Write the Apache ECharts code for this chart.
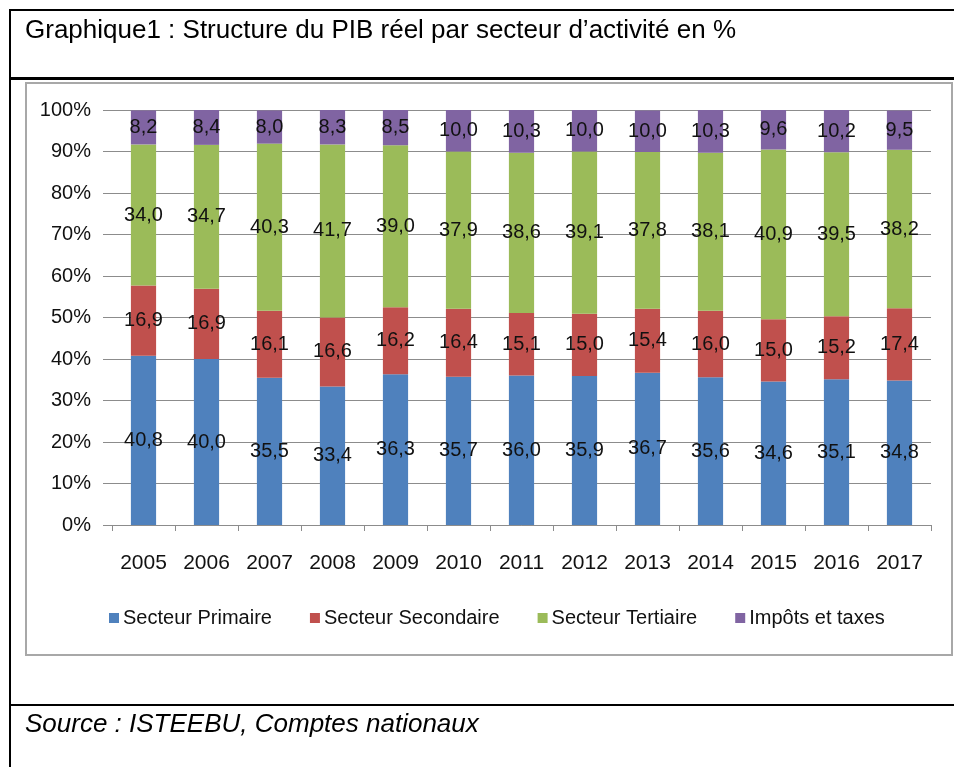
<!DOCTYPE html>
<html>
<head>
<meta charset="utf-8">
<script src="https://cdn.jsdelivr.net/npm/echarts@6/dist/echarts.min.js"></script>
<style>
html,body{margin:0;padding:0;background:#fff;}
#c{width:954px;height:767px;}
</style>
</head>
<body>
<div id="c"></div>
<script>
const years = ['2005','2006','2007','2008','2009','2010','2011','2012','2013','2014','2015','2016','2017'];
const primaire = [40.8,40.0,35.5,33.4,36.3,35.7,36.0,35.9,36.7,35.6,34.6,35.1,34.8];
const secondaire = [16.9,16.9,16.1,16.6,16.2,16.4,15.1,15.0,15.4,16.0,15.0,15.2,17.4];
const tertiaire = [34.0,34.7,40.3,41.7,39.0,37.9,38.6,39.1,37.8,38.1,40.9,39.5,38.2];
const impots = [8.2,8.4,8.0,8.3,8.5,10.0,10.3,10.0,10.0,10.3,9.6,10.2,9.5];
const yTicks = ['0%','10%','20%','30%','40%','50%','60%','70%','80%','90%','100%'];

const FONT = '"Liberation Sans", Arial, sans-serif';
const chart = echarts.init(document.getElementById('c'), null, {renderer:'canvas'});

function mk(name, data, color){
  return {
    name: name, type:'bar', stack:'s', data: data, barWidth:'40%',
    itemStyle:{color: color},
    label:{show:true, position:'inside', color:'#111', fontFamily:FONT, fontSize:20,
      formatter: p => p.value.toFixed(1).replace('.', ',')}
  };
}

chart.setOption({
  animation:false,
  textStyle:{fontFamily:FONT},
  grid:{left:112, right:23, top:110, bottom:242, containLabel:false},
  legend:{
    data:['Secteur Primaire','Secteur Secondaire','Secteur Tertiaire','Impôts et taxes'],
    top:603, left:104, icon:'rect', itemWidth:10, itemHeight:10, itemGap:38,
    textStyle:{fontFamily:FONT, fontSize:20, color:'#111', padding:[0,0,0,-1]}
  },
  xAxis:{
    type:'category', data:years,
    axisLine:{lineStyle:{color:'#8c8c8c', width:1}},
    axisTick:{show:true, length:6, alignWithLabel:false, lineStyle:{color:'#8c8c8c'}},
    axisLabel:{fontSize:21, color:'#111', margin:28, interval:0, fontFamily:FONT}
  },
  yAxis:{
    type:'value', min:0, max:100, interval:10,
    axisLine:{show:false},
    axisTick:{show:true, length:9, lineStyle:{color:'#8c8c8c'}},
    splitLine:{lineStyle:{color:'#8c8c8c', width:1}},
    axisLabel:{fontSize:20, color:'#111', margin:21, fontFamily:FONT,
      formatter: v => yTicks[Math.round(v/10)]}
  },
  series:[
    mk('Secteur Primaire', primaire, '#4F81BD'),
    mk('Secteur Secondaire', secondaire, '#C0504D'),
    mk('Secteur Tertiaire', tertiaire, '#9BBB59'),
    mk('Impôts et taxes', impots, '#8064A2')
  ],
  graphic:[
    {type:'rect', z:-1, shape:{x:26, y:83, width:926, height:572}, style:{fill:'none', stroke:'#a8a8a8', lineWidth:2}},
    {type:'line', shape:{x1:10, y1:10, x2:954, y2:10}, style:{stroke:'#000', lineWidth:2}},
    {type:'line', shape:{x1:10, y1:9, x2:10, y2:767}, style:{stroke:'#000', lineWidth:2}},
    {type:'line', shape:{x1:10, y1:78.5, x2:954, y2:78.5}, style:{stroke:'#000', lineWidth:3}},
    {type:'line', shape:{x1:10, y1:705, x2:954, y2:705}, style:{stroke:'#000', lineWidth:2}},
    {type:'text', left:25, top:18, style:{text:'Graphique1 : Structure du PIB réel par secteur d\u2019activité en %', fontFamily:FONT, fontSize:26, fill:'#000'}},
    {type:'text', left:25, top:712, style:{text:'Source : ISTEEBU, Comptes nationaux', fontFamily:FONT, fontSize:26, fontStyle:'italic', fill:'#000'}}
  ]
});
</script>
</body>
</html>
